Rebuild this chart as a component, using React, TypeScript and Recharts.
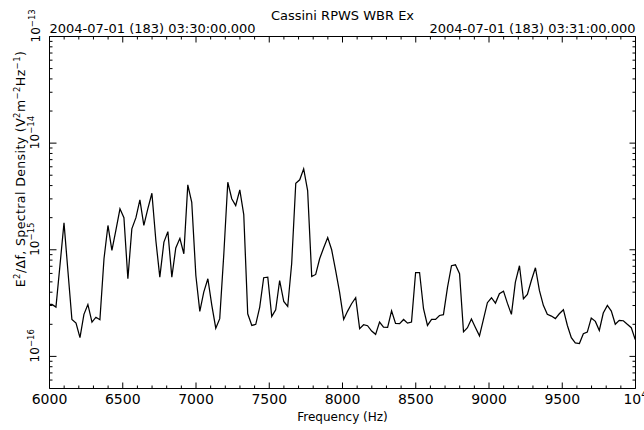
import React from 'react';
import { LineChart, Line, XAxis, YAxis } from 'recharts';

const frequencyHz = [
  5990, 6017, 6044, 6072, 6099, 6126, 6153, 6181, 6208, 6235, 6262, 6290, 6317, 6344, 6372, 6399,
  6426, 6453, 6481, 6508, 6535, 6562, 6590, 6617, 6644, 6671, 6699, 6726, 6753, 6781, 6808, 6835,
  6862, 6890, 6917, 6944, 6971, 6999, 7026, 7053, 7081, 7108, 7135, 7162, 7190, 7217, 7244, 7271,
  7299, 7326, 7353, 7381, 7408, 7435, 7462, 7490, 7517, 7544, 7571, 7599, 7626, 7653, 7681, 7708,
  7735, 7762, 7790, 7817, 7844, 7871, 7899, 7926, 7953, 7980, 8008, 8035, 8062, 8090, 8117, 8144,
  8171, 8199, 8226, 8253, 8280, 8308, 8335, 8362, 8390, 8417, 8444, 8471, 8499, 8526, 8553, 8580,
  8608, 8635, 8662, 8689, 8717, 8744, 8771, 8799, 8826, 8853, 8880, 8908, 8935, 8962, 8989, 9017,
  9044, 9071, 9099, 9126, 9153, 9180, 9208, 9235, 9262, 9289, 9317, 9344, 9371, 9398, 9426, 9453,
  9480, 9508, 9535, 9562, 9589, 9617, 9644, 9671, 9698, 9726, 9753, 9780, 9808, 9835, 9862, 9889,
  9917, 9944, 9971, 9998,
];

const spectralDensity = [
  3.07e-16, 3.07e-16, 2.90e-16, 7.28e-16, 1.79e-15, 6.26e-16, 2.22e-16, 2.05e-16, 1.50e-16, 2.48e-16,
  3.07e-16, 2.10e-16, 2.33e-16, 2.21e-16, 8.24e-16, 1.69e-15, 9.85e-16, 1.52e-15, 2.42e-15, 2.00e-15,
  5.35e-16, 1.57e-15, 2.00e-15, 2.94e-15, 1.69e-15, 2.42e-15, 3.39e-15, 1.22e-15, 5.54e-16, 1.18e-15,
  1.48e-15, 5.54e-16, 1.04e-15, 1.28e-15, 9.17e-16, 4.06e-15, 2.79e-15, 5.74e-16, 2.64e-16, 4.01e-16,
  5.35e-16, 3.01e-16, 1.84e-16, 2.26e-16, 9.17e-16, 4.30e-15, 3.01e-15, 2.60e-15, 3.65e-15, 2.14e-15,
  2.51e-16, 1.95e-16, 2.00e-16, 2.90e-16, 5.47e-16, 5.54e-16, 2.37e-16, 2.74e-16, 5.15e-16, 3.28e-16,
  2.94e-16, 7.39e-16, 4.21e-15, 4.53e-15, 5.74e-15, 3.59e-15, 5.62e-16, 5.87e-16, 8.24e-16, 1.04e-15,
  1.30e-15, 1.00e-15, 6.40e-16, 4.01e-16, 2.22e-16, 2.66e-16, 3.12e-16, 3.55e-16, 1.82e-16, 1.98e-16,
  1.94e-16, 1.73e-16, 1.61e-16, 2.10e-16, 1.88e-16, 1.87e-16, 2.67e-16, 2.04e-16, 2.03e-16, 2.22e-16,
  2.05e-16, 2.10e-16, 6.12e-16, 6.12e-16, 2.80e-16, 1.95e-16, 2.22e-16, 2.22e-16, 2.42e-16, 2.46e-16,
  4.46e-16, 7.08e-16, 7.23e-16, 5.96e-16, 1.70e-16, 1.86e-16, 2.24e-16, 1.86e-16, 1.56e-16, 2.22e-16,
  3.19e-16, 3.55e-16, 3.16e-16, 3.87e-16, 4.09e-16, 3.14e-16, 2.48e-16, 4.97e-16, 7.08e-16, 3.47e-16,
  3.81e-16, 5.15e-16, 6.78e-16, 4.16e-16, 3.01e-16, 2.48e-16, 2.39e-16, 2.26e-16, 2.51e-16, 2.74e-16,
  1.95e-16, 1.50e-16, 1.34e-16, 1.32e-16, 1.63e-16, 1.69e-16, 2.29e-16, 2.13e-16, 1.75e-16, 2.55e-16,
  3.01e-16, 2.66e-16, 2.00e-16, 2.18e-16, 2.16e-16, 2.00e-16, 1.86e-16, 1.44e-16,
];

const xTickValues = [
  6000, 6100, 6200, 6300, 6400, 6500, 6600, 6700, 6800, 6900, 7000, 7100, 7200, 7300, 7400, 7500,
  7600, 7700, 7800, 7900, 8000, 8100, 8200, 8300, 8400, 8500, 8600, 8700, 8800, 8900, 9000, 9100,
  9200, 9300, 9400, 9500, 9600, 9700, 9800, 9900, 10000,
];
const xLabelStep = 500;

const yTickValues = [
  6e-17, 7e-17, 8e-17, 9e-17,
  1e-16, 2e-16, 3e-16, 4e-16, 5e-16, 6e-16, 7e-16, 8e-16, 9e-16,
  1e-15, 2e-15, 3e-15, 4e-15, 5e-15, 6e-15, 7e-15, 8e-15, 9e-15,
  1e-14, 2e-14, 3e-14, 4e-14, 5e-14, 6e-14, 7e-14, 8e-14, 9e-14,
  1e-13,
];

const chartTitle = 'Cassini RPWS WBR Ex';
const startTimeLabel = '2004-07-01 (183) 03:30:00.000';
const endTimeLabel = '2004-07-01 (183) 03:31:00.000';
const xAxisTitle = 'Frequency (Hz)';

const data = frequencyHz.map((f, i) => ({ f, v: spectralDensity[i] }));

const FONT = '"DejaVu Sans", sans-serif';
const MAJOR = 6;
const MINOR = 3;

const isMajorLog = (v: number) => {
  const l = Math.log10(v);
  return Math.abs(l - Math.round(l)) < 1e-6;
};

const BottomTick = (props: any) => {
  const { x, y, payload } = props;
  const v = payload.value;
  const major = v % xLabelStep === 0;
  const exp = Math.log10(v);
  const isPow10 = Math.abs(exp - Math.round(exp)) < 1e-9;
  return (
    <g>
      <line x1={x} y1={y} x2={x} y2={y - (major ? MAJOR : MINOR)} stroke="#000" strokeWidth={1} />
      {major && (
        <text x={x} y={y + 15} textAnchor="middle" fontSize={14} fontFamily={FONT} fill="#000">
          {isPow10 ? (
            <>
              10
              <tspan dy={-6} fontSize={10}>{Math.round(exp)}</tspan>
            </>
          ) : (
            v
          )}
        </text>
      )}
    </g>
  );
};

const TopTick = (props: any) => {
  const { x, y, payload } = props;
  const major = payload.value % xLabelStep === 0;
  return <line x1={x} y1={y} x2={x} y2={y + (major ? MAJOR : MINOR)} stroke="#000" strokeWidth={1} />;
};

const LeftTick = (props: any) => {
  const { x, y, payload } = props;
  const v = payload.value;
  const major = isMajorLog(v);
  const e = Math.round(Math.log10(v));
  const lx = x - 10;
  return (
    <g>
      <line x1={x} y1={y} x2={x + (major ? MAJOR + 1 : MINOR)} y2={y} stroke="#000" strokeWidth={1} />
      {major && (
        <text
          x={lx - 6}
          y={y}
          transform={`rotate(-90 ${lx} ${y})`}
          textAnchor="start"
          fontSize={12}
          fontFamily={FONT}
          fill="#000"
        >
          10
          <tspan dy={-5} fontSize={8.5}>{`\u2212${Math.abs(e)}`}</tspan>
        </text>
      )}
    </g>
  );
};

const RightTick = (props: any) => {
  const { x, y, payload } = props;
  const major = isMajorLog(payload.value);
  return <line x1={x} y1={y} x2={x - (major ? MAJOR : MINOR)} y2={y} stroke="#000" strokeWidth={1} />;
};

const TopLabels = (props: any) => {
  const vb = props.viewBox || { x: 49.5, y: 26.5, width: 586, height: 10 };
  return (
    <g fontFamily={FONT} fill="#000">
      <text x={vb.x + vb.width / 2} y={20} textAnchor="middle" fontSize={13}>
        {chartTitle}
      </text>
      <text x={vb.x} y={33} textAnchor="start" fontSize={13}>
        {startTimeLabel}
      </text>
      <text x={vb.x + vb.width} y={33} textAnchor="end" fontSize={13}>
        {endTimeLabel}
      </text>
    </g>
  );
};

const BottomLabel = (props: any) => {
  const vb = props.viewBox || { x: 49.5, y: 388.5, width: 586, height: 30 };
  return (
    <text x={vb.x + vb.width / 2} y={421} textAnchor="middle" fontSize={12} fontFamily={FONT} fill="#000">
      {xAxisTitle}
    </text>
  );
};

const LeftLabel = () => {
  const cx = 25;
  const cy = 169;
  return (
    <text
      x={cx}
      y={cy}
      transform={`rotate(-90 ${cx} ${cy})`}
      textAnchor="middle"
      fontSize={12.5}
      letterSpacing={0.4}
      fontFamily={FONT}
      fill="#000"
    >
      E<tspan dy={-5} fontSize={8.5}>2</tspan>
      <tspan dy={5}>/Δf, Spectral Density (V</tspan>
      <tspan dy={-5} fontSize={8.5}>2</tspan>
      <tspan dy={5}>m</tspan>
      <tspan dy={-5} fontSize={8.5}>−2</tspan>
      <tspan dy={5}>Hz</tspan>
      <tspan dy={-5} fontSize={8.5}>−1</tspan>
      <tspan dy={5}>)</tspan>
    </text>
  );
};

export default function App() {
  return (
    <div style={{ position: 'absolute', left: 0, top: 0, width: 644, height: 430, background: '#fff' }}>
      <LineChart
        width={644}
        height={430}
        data={data}
        margin={{ top: 26.5, right: 0.5, bottom: 11.5, left: 9.5 }}
      >
        <XAxis
          xAxisId="bottom"
          dataKey="f"
          type="number"
          orientation="bottom"
          domain={[6000, 10000]}
          allowDataOverflow
          ticks={xTickValues}
          interval={0}
          height={30}
          tickSize={0}
          tickMargin={0}
          tickLine={false}
          tick={BottomTick}
          stroke="#000"
          axisLine={{ stroke: '#000', strokeWidth: 1 }}
          label={BottomLabel}
        />
        <XAxis
          xAxisId="top"
          dataKey="f"
          type="number"
          orientation="top"
          domain={[6000, 10000]}
          allowDataOverflow
          ticks={xTickValues}
          interval={0}
          height={10}
          tickSize={0}
          tickMargin={0}
          tickLine={false}
          tick={TopTick}
          stroke="#000"
          axisLine={{ stroke: '#000', strokeWidth: 1 }}
          label={TopLabels}
        />
        <YAxis
          yAxisId="left"
          type="number"
          scale="log"
          domain={[5e-17, 1e-13]}
          allowDataOverflow
          ticks={yTickValues}
          interval={0}
          width={40}
          tickSize={0}
          tickMargin={0}
          tickLine={false}
          tick={LeftTick}
          stroke="#000"
          axisLine={{ stroke: '#000', strokeWidth: 1 }}
          label={LeftLabel}
        />
        <YAxis
          yAxisId="right"
          orientation="right"
          type="number"
          scale="log"
          domain={[5e-17, 1e-13]}
          allowDataOverflow
          ticks={yTickValues}
          interval={0}
          width={8}
          tickSize={0}
          tickMargin={0}
          tickLine={false}
          tick={RightTick}
          stroke="#000"
          axisLine={{ stroke: '#000', strokeWidth: 1 }}
        />
        <Line
          xAxisId="bottom"
          yAxisId="left"
          dataKey="v"
          type="linear"
          stroke="#000"
          strokeWidth={1.25}
          dot={false}
          activeDot={false}
          isAnimationActive={false}
        />
      </LineChart>
    </div>
  );
}
